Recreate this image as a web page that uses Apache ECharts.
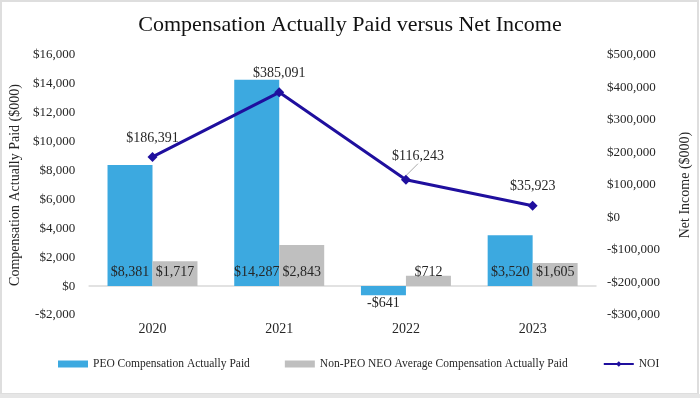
<!DOCTYPE html>
<html>
<head>
<meta charset="utf-8">
<script src="https://cdn.jsdelivr.net/npm/echarts@6/dist/echarts.min.js"></script>
<style>
  html, body { margin: 0; padding: 0; background: #fff; }
  #chart { width: 700px; height: 398px; }
</style>
</head>
<body>
<div id="chart"></div>
<script>
const years = ['2020', '2021', '2022', '2023'];
const peoCap = [8381, 14287, -641, 3520];
const neoCap = [1717, 2843, 712, 1605];
const noi = [186391, 385091, 116243, 35923];

const serif = "'Liberation Serif', 'Times New Roman', serif";
const ink = '#262626';

function money(v) {
  const s = '$' + Math.abs(v).toLocaleString('en-US');
  return v < 0 ? '-' + s : s;
}

const chart = echarts.init(document.getElementById('chart'));

const barLabel = {
  show: true,
  position: 'insideBottom',
  distance: 7,
  color: ink,
  fontFamily: serif,
  fontSize: 14,
  formatter: p => money(p.value)
};

chart.setOption({
  animation: false,
  backgroundColor: '#fff',
  title: {
    text: 'Compensation Actually Paid versus Net Income',
    left: 'center',
    top: 9,
    textStyle: { fontFamily: serif, fontWeight: 'normal', fontSize: 22, color: '#111' }
  },
  legend: {
    bottom: 23,
    left: 53,
    itemWidth: 30,
    itemHeight: 7,
    itemGap: 35,
    textStyle: { fontFamily: serif, fontSize: 11.5, color: ink },
    data: [
      { name: 'PEO Compensation Actually Paid', icon: 'rect' },
      { name: 'Non-PEO NEO Average Compensation Actually Paid', icon: 'rect' },
      { name: 'NOI' }
    ]
  },
  grid: { left: 87, right: 98, top: 55, bottom: 83 },
  xAxis: {
    type: 'category',
    data: years,
    axisTick: { show: false },
    axisLine: { lineStyle: { color: '#d9d9d9', width: 1.5 } },
    axisLabel: { margin: 7, color: ink, fontFamily: serif, fontSize: 14 }
  },
  yAxis: [
    {
      type: 'value',
      min: -2000,
      max: 16000,
      interval: 2000,
      name: 'Compensation Actually Paid ($000)',
      nameLocation: 'middle',
      nameRotate: 90,
      nameGap: 61,
      nameTextStyle: { fontFamily: serif, fontSize: 14, color: ink },
      splitLine: { show: false },
      axisLine: { show: false },
      axisTick: { show: false },
      axisLabel: { margin: 14, color: ink, fontFamily: serif, fontSize: 13, formatter: money }
    },
    {
      type: 'value',
      min: -300000,
      max: 500000,
      interval: 100000,
      name: 'Net Income ($000)',
      nameLocation: 'middle',
      nameRotate: 90,
      nameGap: 82,
      nameTextStyle: { fontFamily: serif, fontSize: 14, color: ink },
      splitLine: { show: false },
      axisLine: { show: false },
      axisTick: { show: false },
      axisLabel: { margin: 11, color: ink, fontFamily: serif, fontSize: 13, formatter: money }
    }
  ],
  series: [
    {
      name: 'PEO Compensation Actually Paid',
      type: 'bar',
      data: peoCap.map(v => v < 0
        ? { value: v, label: { position: 'outside', distance: 1 } }
        : v),
      barGap: '0%',
      barCategoryGap: '29%',
      itemStyle: { color: '#3ca9e0' },
      label: barLabel
    },
    {
      name: 'Non-PEO NEO Average Compensation Actually Paid',
      type: 'bar',
      data: neoCap,
      itemStyle: { color: '#bfbfbf' },
      label: barLabel
    },
    {
      name: 'NOI',
      type: 'line',
      yAxisIndex: 1,
      data: noi.map((v, i) => i === 2
        ? { value: v, labelLine: { show: true, lineStyle: { color: '#aaa', width: 1 } } }
        : v),
      z: 5,
      symbol: 'diamond',
      symbolSize: 10,
      lineStyle: { color: '#1f0f9e', width: 3 },
      itemStyle: { color: '#1f0f9e' },
      label: {
        show: true,
        position: 'top',
        distance: 7,
        color: ink,
        fontFamily: serif,
        fontSize: 14,
        formatter: p => money(p.value)
      },
      labelLayout: p => p.dataIndex === 2 ? { dx: 12, dy: -4 } : {},
      labelLine: { show: false }
    }
  ],
  graphic: [
    {
      type: 'rect',
      shape: { x: 1, y: 1, width: 697, height: 393 },
      style: { fill: 'none', stroke: '#dedede', lineWidth: 2 },
      silent: true
    },
    {
      type: 'rect',
      shape: { x: 0, y: 394, width: 700, height: 4 },
      style: { fill: '#e6e6e6' },
      silent: true
    }
  ]
});
</script>
</body>
</html>
